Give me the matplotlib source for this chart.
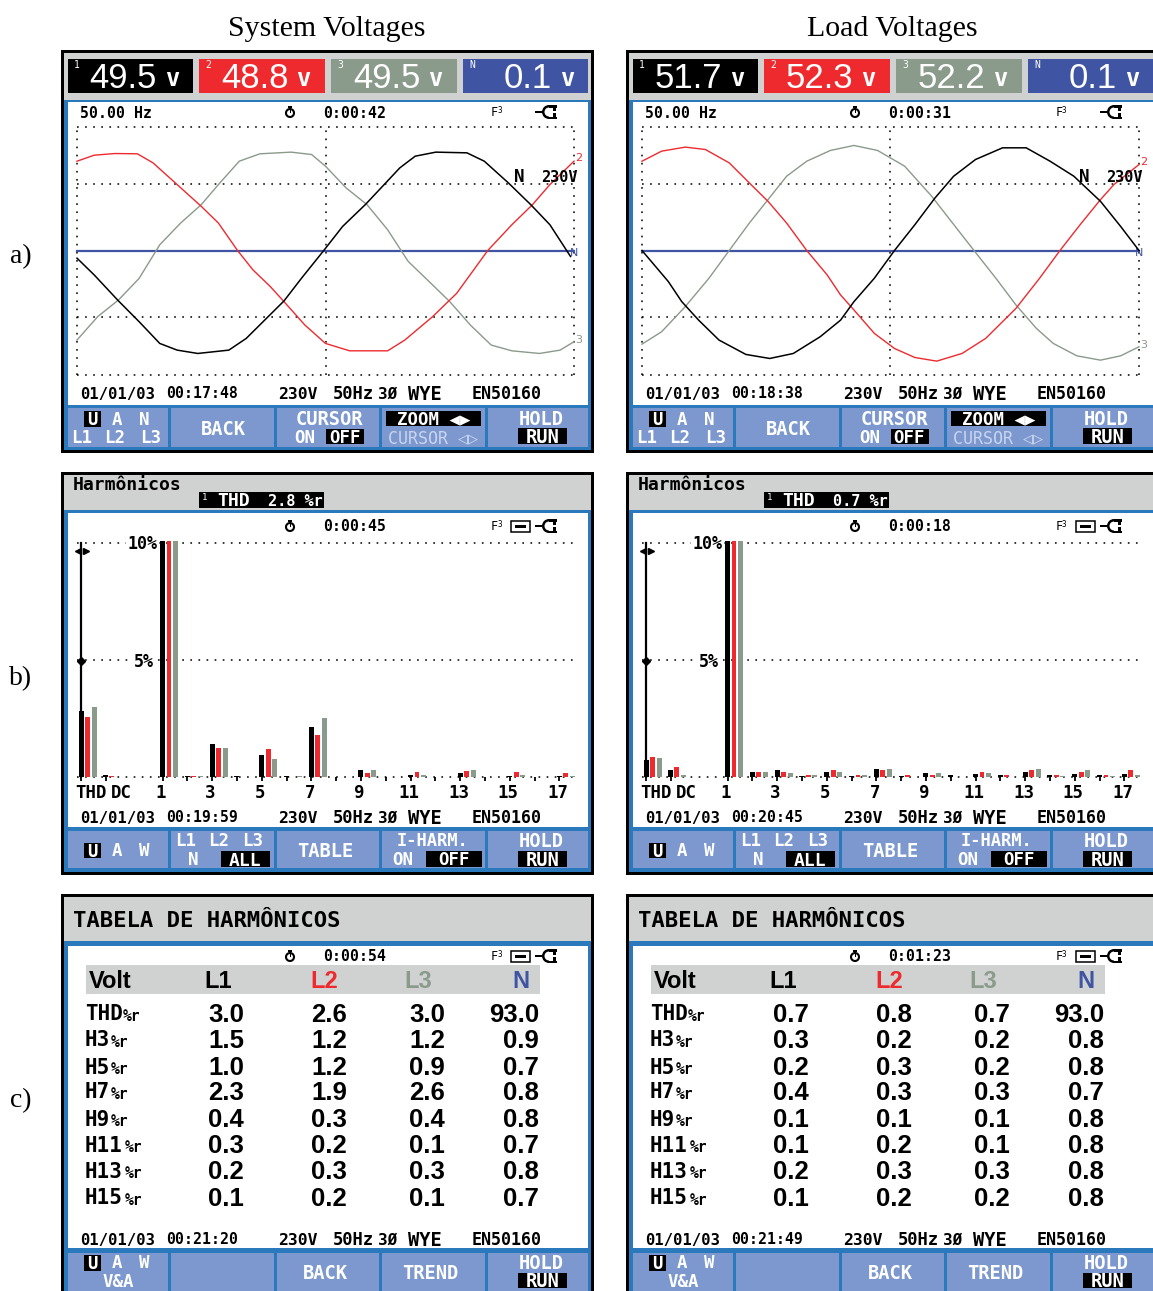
#!/usr/bin/env python3

import matplotlib
matplotlib.use('Agg')
import matplotlib.pyplot as plt
from matplotlib.patches import Rectangle, Circle, Wedge

W, H = 1153, 1291

BLACK = '#000000'
RED = '#ee2a2e'
GRAY = '#8a9a8b'
BLUE = '#3f54a3'
HEAD = '#d0d2d1'
EDGE = '#2b79bd'
BTN = '#7c98cf'

MONO = ['DejaVu Sans Mono']
NARROW = ['Liberation Sans']
SERIF = ['Liberation Serif']

sys_t1 = [0, .69, 1.67, 2.5, 3.33, 4.03, 4.86, 6.11, 6.81, 8.33, 9.03, 9.93, 10.69, 11.6, 12.36, 12.99, 13.61, 14.44, 15.69, 16.39, 17.36, 18.26, 19.03, 19.86]
sys_v1 = [-5.5, -17.5, -36.2, -51.1, -66.7, -71.5, -73.9, -71.5, -63.1, -36.2, -20, 0, 17.3, 32.9, 47.3, 59.3, 67.7, 70.6, 70.1, 64.1, 48.5, 32.9, 18.5, -4.3]
sys_t2 = [0, .69, 1.53, 2.43, 3.06, 4.03, 5, 5.69, 6.46, 7.08, 7.78, 8.33, 9.17, 10, 10.97, 12.5, 13.19, 14.31, 15.28, 16.53, 17.5, 18.33, 19.03, 20]
sys_v2 = [64.1, 68.4, 69.6, 69.4, 62.9, 47.3, 31.7, 19.7, 0, -13.9, -25.9, -36.7, -53.5, -66.7, -72, -72, -64.3, -47.5, -30.7, 0, 18.5, 32.9, 47.3, 64.1]
sys_t3 = [0, .83, 1.67, 2.5, 3.33, 4.17, 5, 5.69, 6.53, 7.36, 8.61, 9.44, 10, 10.83, 11.67, 12.5, 13.33, 14.17, 15, 15.83, 16.67, 17.5, 18.61, 19.44, 20]
sys_v3 = [-64.3, -47.5, -35.5, -20, 4.1, 19.7, 32.9, 47.3, 64.1, 69.4, 70.6, 68.9, 60.5, 44.9, 32.9, 14.9, -7.9, -22.3, -36.7, -53.5, -67.9, -72, -73.9, -71.5, -65.5]

load_t1 = [0, 1.06, 1.6, 2.28, 3.1, 4.18, 5.14, 6.09, 7.17, 7.99, 8.53, 9.35, 10.16, 10.98, 11.79, 12.54, 13.42, 14.51, 15.46, 16.42, 17.38, 18.45, 19.26, 20]
load_v1 = [0, -22.3, -36.7, -50, -64.3, -74.6, -77.5, -73.9, -61.9, -50, -36.7, -19.9, 0, 18.5, 37.7, 53.3, 65.3, 73.7, 73.7, 64.1, 53.3, 35.3, 17.3, 0]
load_t2 = [0, .79, 1.74, 2.55, 3.51, 4.32, 5.07, 5.82, 6.63, 7.45, 7.99, 8.53, 9.35, 10.16, 10.98, 11.86, 12.88, 13.83, 15.05, 16, 16.82, 17.63, 18.45, 18.99, 20]
load_v2 = [64.1, 71.3, 74.2, 72.5, 62.9, 48.5, 35.3, 19.7, 0, -17.5, -31.9, -42.7, -59.5, -70.3, -76.8, -79.4, -73.9, -63.1, -41.5, -19.9, 0, 18.5, 36.5, 47.3, 61.7]
load_t3 = [0, .79, 1.74, 2.69, 3.51, 4.32, 5.07, 5.82, 6.63, 7.58, 8.53, 9.48, 10.57, 11.66, 12.34, 13.36, 14.24, 15.05, 15.87, 16.55, 17.5, 18.45, 19.26, 20]
load_v3 = [-67.2, -58.3, -40.3, -20, 0, 19.7, 36.5, 53.3, 64.1, 71.8, 75.4, 71.8, 60.5, 38.9, 23.3, 0, -19.9, -39.1, -55.9, -66.7, -75.6, -78.7, -75.6, -69.1]

# harmonic bars, %: THD, DC, then orders 1 to 17
sys_h1 = [2.8, .1, 10.1, .03, 1.43, .03, .93, .03, 2.14, .01, .3, .01, .1, .01, .15, .01, .05, .01, .05]
sys_h2 = [2.57, .05, 10.1, .05, 1.23, .01, 1.21, .01, 1.79, .01, .15, .01, .2, .01, .25, .01, .2, .01, .15]
sys_h3 = [3.0, .02, 10.1, .03, 1.23, .01, .79, .03, 2.5, .01, .3, .01, .1, .01, .3, .01, .1, .01, .03]

load_h1 = [.72, .3, 10.1, .2, .3, .03, .22, .03, .35, .03, .15, .1, .12, .08, .2, .08, .12, .08, .13]
load_h2 = [.85, .44, 10.1, .2, .22, .08, .3, .08, .28, .08, .1, .01, .22, .08, .3, .08, .2, .08, .3]
load_h3 = [.8, .08, 10.1, .2, .15, .08, .22, .08, .35, .01, .15, .01, .15, .01, .35, .05, .3, .05, .08]

harm_pos = [-2.27, -1.3] + list(range(1, 18))
harm_ticks = ['THD', 'DC', '1', '3', '5', '7', '9', '11', '13', '15', '17']

# harmonics tables
table_rows = ['THD', 'H3', 'H5', 'H7', 'H9', 'H11', 'H13', 'H15']
sys_l1 = ['3.0', '1.5', '1.0', '2.3', '0.4', '0.3', '0.2', '0.1']
sys_l2 = ['2.6', '1.2', '1.2', '1.9', '0.3', '0.2', '0.3', '0.2']
sys_l3 = ['3.0', '1.2', '0.9', '2.6', '0.4', '0.1', '0.3', '0.1']
sys_n = ['93.0', '0.9', '0.7', '0.8', '0.8', '0.7', '0.8', '0.7']
load_l1 = ['0.7', '0.3', '0.2', '0.4', '0.1', '0.1', '0.2', '0.1']
load_l2 = ['0.8', '0.2', '0.3', '0.3', '0.1', '0.2', '0.3', '0.2']
load_l3 = ['0.7', '0.2', '0.2', '0.3', '0.1', '0.1', '0.3', '0.2']
load_n = ['93.0', '0.8', '0.8', '0.7', '0.8', '0.8', '0.8', '0.8']

sys_read = ['49.5', '48.8', '49.5', '0.1']
load_read = ['51.7', '52.3', '52.2', '0.1']


fig = plt.figure(figsize=(W / 100, H / 100), dpi=100)
base = fig.add_axes([0, 0, 1, 1], zorder=0)
top = fig.add_axes([0, 0, 1, 1], zorder=10)
for a in (base, top):
    a.set_xlim(0, W)
    a.set_ylim(H, 0)
    a.axis('off')
top.patch.set_alpha(0)


def rect(x0, y0, x1, y1, color, ax=base, z=1):
    ax.add_patch(Rectangle((x0, y0), x1 - x0, y1 - y0, fc=color, ec='none', zorder=z))


def txt(x, y, s, size=10.7, color='black', ha='left', font=MONO, weight='bold'):
    # baseline placed from the cap height, so slashes and accents do not shift the row
    top.text(x, y + .5 * size, s, fontsize=size, color=color, ha=ha, va='baseline', family=font, weight=weight)


def inv(x0, y0, x1, y1, s, size=12.5):
    rect(x0, y0, x1, y1, 'black', ax=top, z=1)
    top.text((x0 + x1) / 2, (y0 + y1) / 2 + .5 * size, s, fontsize=size, color='white', ha='center',
             va='baseline', family=MONO, weight='bold', zorder=2)


def sub_axes(x0, y0, x1, y1):
    ax = fig.add_axes([x0 / W, 1 - y1 / H, (x1 - x0) / W, (y1 - y0) / H], zorder=5)
    ax.patch.set_alpha(0)
    for s in ax.spines.values():
        s.set_visible(False)
    return ax


def icons(dx, y, battery=False):
    # stopwatch
    top.add_patch(Circle((dx + 290, y + 1), 4, fc='white', ec='black', lw=1.5))
    rect(dx + 288, y - 6, dx + 292, y - 4, 'black', ax=top)
    rect(dx + 289.5, y - 3, dx + 290.5, y + 1, 'black', ax=top)
    txt(dx + 491, y, 'F', 8.5, weight='normal')
    txt(dx + 497, y - 2, '3', 5.5, weight='normal')
    if battery:
        top.add_patch(Rectangle((dx + 511, y - 5), 19, 11, fc='white', ec='black', lw=1.1))
        rect(dx + 515, y - 1, dx + 526, y + 2, 'black', ax=top)
    # plug
    rect(dx + 535, y - 1.2, dx + 542, y + 1.2, 'black', ax=top)
    top.add_patch(Wedge((dx + 549, y), 7, 90, 270, width=2.5, fc='black', ec='none'))
    rect(dx + 549, y - 7, dx + 557, y - 4.5, 'black', ax=top)
    rect(dx + 549, y + 4.5, dx + 557, y + 7, 'black', ax=top)
    rect(dx + 553, y - 4.5, dx + 556, y + 4.5, 'black', ax=top)
    rect(dx + 552, y - 1, dx + 558, y + 1, 'white', ax=top)


def screen(dx, y0, y1, head_end, white0, white1, btn0, btn1):
    rect(dx + 61, y0, dx + 594, y1, 'black')
    rect(dx + 64, y0 + 3, dx + 591, y1 - 3, HEAD)
    rect(dx + 64, head_end, dx + 591, y1 - 3, EDGE)
    rect(dx + 67.6, white0, dx + 588, white1, 'white')
    for bx0, bx1 in [(67.6, 168), (171, 274), (276.5, 379), (382, 485), (487.6, 588)]:
        rect(dx + bx0, btn0, dx + bx1, btn1, BTN)


def footer(dx, y, clock):
    txt(dx + 80, y, '01/01/03', 11.2)
    txt(dx + 166, y, clock)
    txt(dx + 278, y, '230V', 11.8)
    txt(dx + 333, y, '50Hz', 12.3)
    txt(dx + 378, y, '3Ø', 11.5)
    txt(dx + 408, y, 'WYE', 13.5)
    txt(dx + 472, y, 'EN50160', 12)


def wave_panel(dx, reads, t1, v1, t2, v2, t3, v3, runtime, clock):
    screen(dx, 50, 453, 100, 102, 405, 408, 447)
    # readouts
    boxes = [(67.6, 193, BLACK), (199, 324.5, RED), (331, 456.5, GRAY), (463, 588, BLUE)]
    tags = ['1', '2', '3', 'N']
    for (bx0, bx1, c), r, tag in zip(boxes, reads, tags):
        rect(dx + bx0, 58.5, dx + bx1, 92.5, c)
        txt(dx + bx0 + 6, 65, tag, 7, color='white', weight='normal')
        txt(dx + bx1 - 36, 75, r, 25, color='white', ha='right', font=NARROW, weight='normal')
        txt(dx + bx1 - 21, 77, 'v', 17, color='white', ha='center')

    txt(dx + 80, 113, '50.00 Hz')
    txt(dx + 323, 113, runtime)
    icons(dx, 112)

    ax = sub_axes(dx + 77, 126.5, dx + 574, 374.5)
    ax.set_xlim(0, 20)
    ax.set_ylim(-89, 89)
    ax.set_xticks([])
    ax.set_yticks([])
    dots = dict(color='black', lw=1.1, dashes=(1.1, 4.2), zorder=1, clip_on=False)
    for v in [-89, -48, 0, 48, 89]:
        ax.axhline(v, **dots)
    for t in [0, 10, 20]:
        ax.axvline(t, **dots)
    ax.axhline(0, color=BLUE, lw=1.6, zorder=2, clip_on=False)
    ax.plot(t3, v3, color=GRAY, lw=1.0, zorder=3, clip_on=False)
    ax.plot(t2, v2, color=RED, lw=1.0, zorder=3, clip_on=False)
    ax.plot(t1, v1, color='black', lw=1.1, zorder=4, clip_on=False)
    ax.text(20.05, v2[-1] + 2, '2', color=RED, fontsize=8, va='center', clip_on=False)
    ax.text(20.05, v3[-1] + 1, '3', color=GRAY, fontsize=8, va='center', clip_on=False)
    ax.text(20.0, -2, 'N', color=BLUE, fontsize=8, va='center', ha='center', clip_on=False)

    txt(dx + 514, 176, 'N', 12.5)
    txt(dx + 541, 176, '230V', 11)
    footer(dx, 393, clock)

    # buttons
    inv(dx + 84, 411, dx + 101, 427, 'U')
    for x, s in [(117, 'A'), (144.5, 'N')]:
        txt(dx + x, 419, s, 12.5, 'white', 'center')
    for x, s in [(82, 'L1'), (115, 'L2'), (151, 'L3')]:
        txt(dx + x, 437, s, 12.5, 'white', 'center')
    txt(dx + 223, 428, 'BACK', 13.5, 'white', 'center')
    txt(dx + 329, 418, 'CURSOR', 13.5, 'white', 'center')
    txt(dx + 305, 437, 'ON', 12.5, 'white', 'center')
    inv(dx + 325.5, 429, dx + 363.5, 444, 'OFF')
    inv(dx + 386, 411, dx + 481, 426, 'ZOOM ◀▶', 12.5)
    txt(dx + 433, 437, 'CURSOR ◁▷', 12, '#c9d5ee', 'center', weight='normal')
    txt(dx + 541, 418, 'HOLD', 13.5, 'white', 'center')
    inv(dx + 517.6, 428, dx + 567, 444, 'RUN', 13.5)


def bar_panel(dx, thd, h1, h2, h3, runtime, clock):
    screen(dx, 472, 875, 510, 513, 827, 831, 868)
    txt(dx + 73, 484, 'Harmônicos', 13)
    inv(dx + 199, 492, dx + 324, 508, '', 10)
    txt(dx + 202, 497, '1', 6.5, 'white', weight='normal')
    txt(dx + 217, 500, 'THD', 13, 'white')
    txt(dx + 268, 500, thd + ' %r', 11, 'white')
    txt(dx + 323, 526, runtime)
    icons(dx, 526, battery=True)

    ax = sub_axes(dx + 77, 543, dx + 574, 777)
    ax.set_xlim(-2.71, 17.33)
    ax.set_ylim(0, 10)
    dots = dict(color='black', lw=1.1, dashes=(1.1, 4.2), zorder=1, clip_on=False)
    for v in [0, 5, 10]:
        ax.axhline(v, **dots)
    black_x = [p - .26 for p in harm_pos]
    red_x = list(harm_pos)
    gray_x = [p + .26 for p in harm_pos]
    ax.bar(black_x, h1, width=.2, color='black', zorder=3, clip_on=False)
    ax.bar(red_x, h2, width=.2, color=RED, zorder=3, clip_on=False)
    ax.bar(gray_x, h3, width=.2, color=GRAY, zorder=3, clip_on=False)
    ax.set_yticks([])
    ax.set_xticks([-2.15, -0.94, .68, 2.68, 4.68, 6.68, 8.68, 10.68, 12.68, 14.68, 16.68])
    ax.set_xticklabels(harm_ticks, family=MONO, weight='bold', fontsize=12.5)
    ax.tick_params(axis='x', which='major', length=0, pad=5)
    ax.set_xticks(black_x, minor=True)
    ax.tick_params(axis='x', which='minor', length=3, width=1.3, color='black')

    # cursor
    ax.plot([-2.53, -2.53], [0, 10], color='black', lw=1.6, zorder=4, clip_on=False)
    top.plot([dx + 77.5], [551], marker='<', ms=5, color='black')
    top.plot([dx + 85.5], [551], marker='>', ms=5, color='black')
    top.plot([dx + 80.5], [661], marker='D', ms=4.5, color='black')
    for x, y, s in [(142.5, 543, '10%'), (144, 661, '5%')]:
        top.text(dx + x, y + 6, s, fontsize=12, family=MONO, weight='bold', ha='center', va='baseline',
                 bbox=dict(fc='white', ec='none', pad=1))

    footer(dx, 817, clock)
    inv(dx + 84, 843, dx + 101, 858, 'U')
    for x, s in [(117, 'A'), (144.5, 'W')]:
        txt(dx + x, 850, s, 12.5, 'white', 'center')
    for x, s in [(186, 'L1'), (219, 'L2'), (253, 'L3')]:
        txt(dx + x, 840, s, 12.5, 'white', 'center')
    txt(dx + 193, 859, 'N', 12.5, 'white', 'center')
    inv(dx + 221, 851, dx + 270, 867, 'ALL', 13)
    txt(dx + 325, 850, 'TABLE', 13.5, 'white', 'center')
    txt(dx + 432, 840, 'I-HARM.', 12.3, 'white', 'center')
    txt(dx + 403, 859, 'ON', 12.5, 'white', 'center')
    inv(dx + 425.5, 851, dx + 482, 867, 'OFF')
    txt(dx + 541, 840, 'HOLD', 13.5, 'white', 'center')
    inv(dx + 517.6, 851, dx + 567, 867, 'RUN', 13.5)


def table_panel(dx, l1, l2, l3, n, runtime, clock):
    screen(dx, 894, 1300, 941, 946, 1248, 1253, 1300)
    txt(dx + 73, 919, 'TABELA DE HARMÔNICOS', 16, font=MONO)
    txt(dx + 323, 956, runtime)
    icons(dx, 956, battery=True)
    rect(dx + 86, 965, dx + 540, 994, HEAD)
    txt(dx + 89, 980, 'Volt', 17, font=NARROW)
    txt(dx + 218, 980, 'L1', 17, ha='center', font=NARROW)
    txt(dx + 324, 980, 'L2', 17, RED, 'center', font=NARROW)
    txt(dx + 418, 980, 'L3', 17, GRAY, 'center', font=NARROW)
    txt(dx + 521, 980, 'N', 17, BLUE, 'center', font=NARROW)
    ys = [1013, 1039, 1066, 1091, 1118, 1144, 1170, 1197]
    for i, name in enumerate(table_rows):
        txt(dx + 85, ys[i], name, 15)
        sx = 123 if name == 'THD' else (111 if len(name) == 2 else 125)
        txt(dx + sx, ys[i] + 3, '%r', 10.5)
        txt(dx + 244, ys[i], l1[i], 18.5, ha='right', font=NARROW)
        txt(dx + 347, ys[i], l2[i], 18.5, ha='right', font=NARROW)
        txt(dx + 445, ys[i], l3[i], 18.5, ha='right', font=NARROW)
        txt(dx + 539, ys[i], n[i], 18.5, ha='right', font=NARROW)
    footer(dx, 1239, clock)
    inv(dx + 84, 1255, dx + 101, 1271, 'U')
    for x, s in [(117, 'A'), (144.5, 'W')]:
        txt(dx + x, 1262, s, 12.5, 'white', 'center')
    txt(dx + 118, 1281, 'V&A', 12.5, 'white', 'center')
    txt(dx + 325, 1272, 'BACK', 13.5, 'white', 'center')
    txt(dx + 430, 1272, 'TREND', 13.5, 'white', 'center')
    txt(dx + 541, 1262, 'HOLD', 13.5, 'white', 'center')
    inv(dx + 517.6, 1273, dx + 567, 1288, 'RUN', 13.5)


wave_panel(0, sys_read, sys_t1, sys_v1, sys_t2, sys_v2, sys_t3, sys_v3, '0:00:42', '00:17:48')
wave_panel(565, load_read, load_t1, load_v1, load_t2, load_v2, load_t3, load_v3, '0:00:31', '00:18:38')
bar_panel(0, '2.8', sys_h1, sys_h2, sys_h3, '0:00:45', '00:19:59')
bar_panel(565, '0.7', load_h1, load_h2, load_h3, '0:00:18', '00:20:45')
table_panel(0, sys_l1, sys_l2, sys_l3, sys_n, '0:00:54', '00:21:20')
table_panel(565, load_l1, load_l2, load_l3, load_n, '0:01:23', '00:21:49')

txt(327, 25, 'System Voltages', 21.5, ha='center', font=SERIF, weight='normal')
txt(892, 25, 'Load Voltages', 21.5, ha='center', font=SERIF, weight='normal')
for y, s in [(253, 'a)'), (675, 'b)'), (1097, 'c)')]:
    txt(21, y, s, 20, ha='center', font=SERIF, weight='normal')

plt.savefig('out.png', dpi=100)
plt.close()
